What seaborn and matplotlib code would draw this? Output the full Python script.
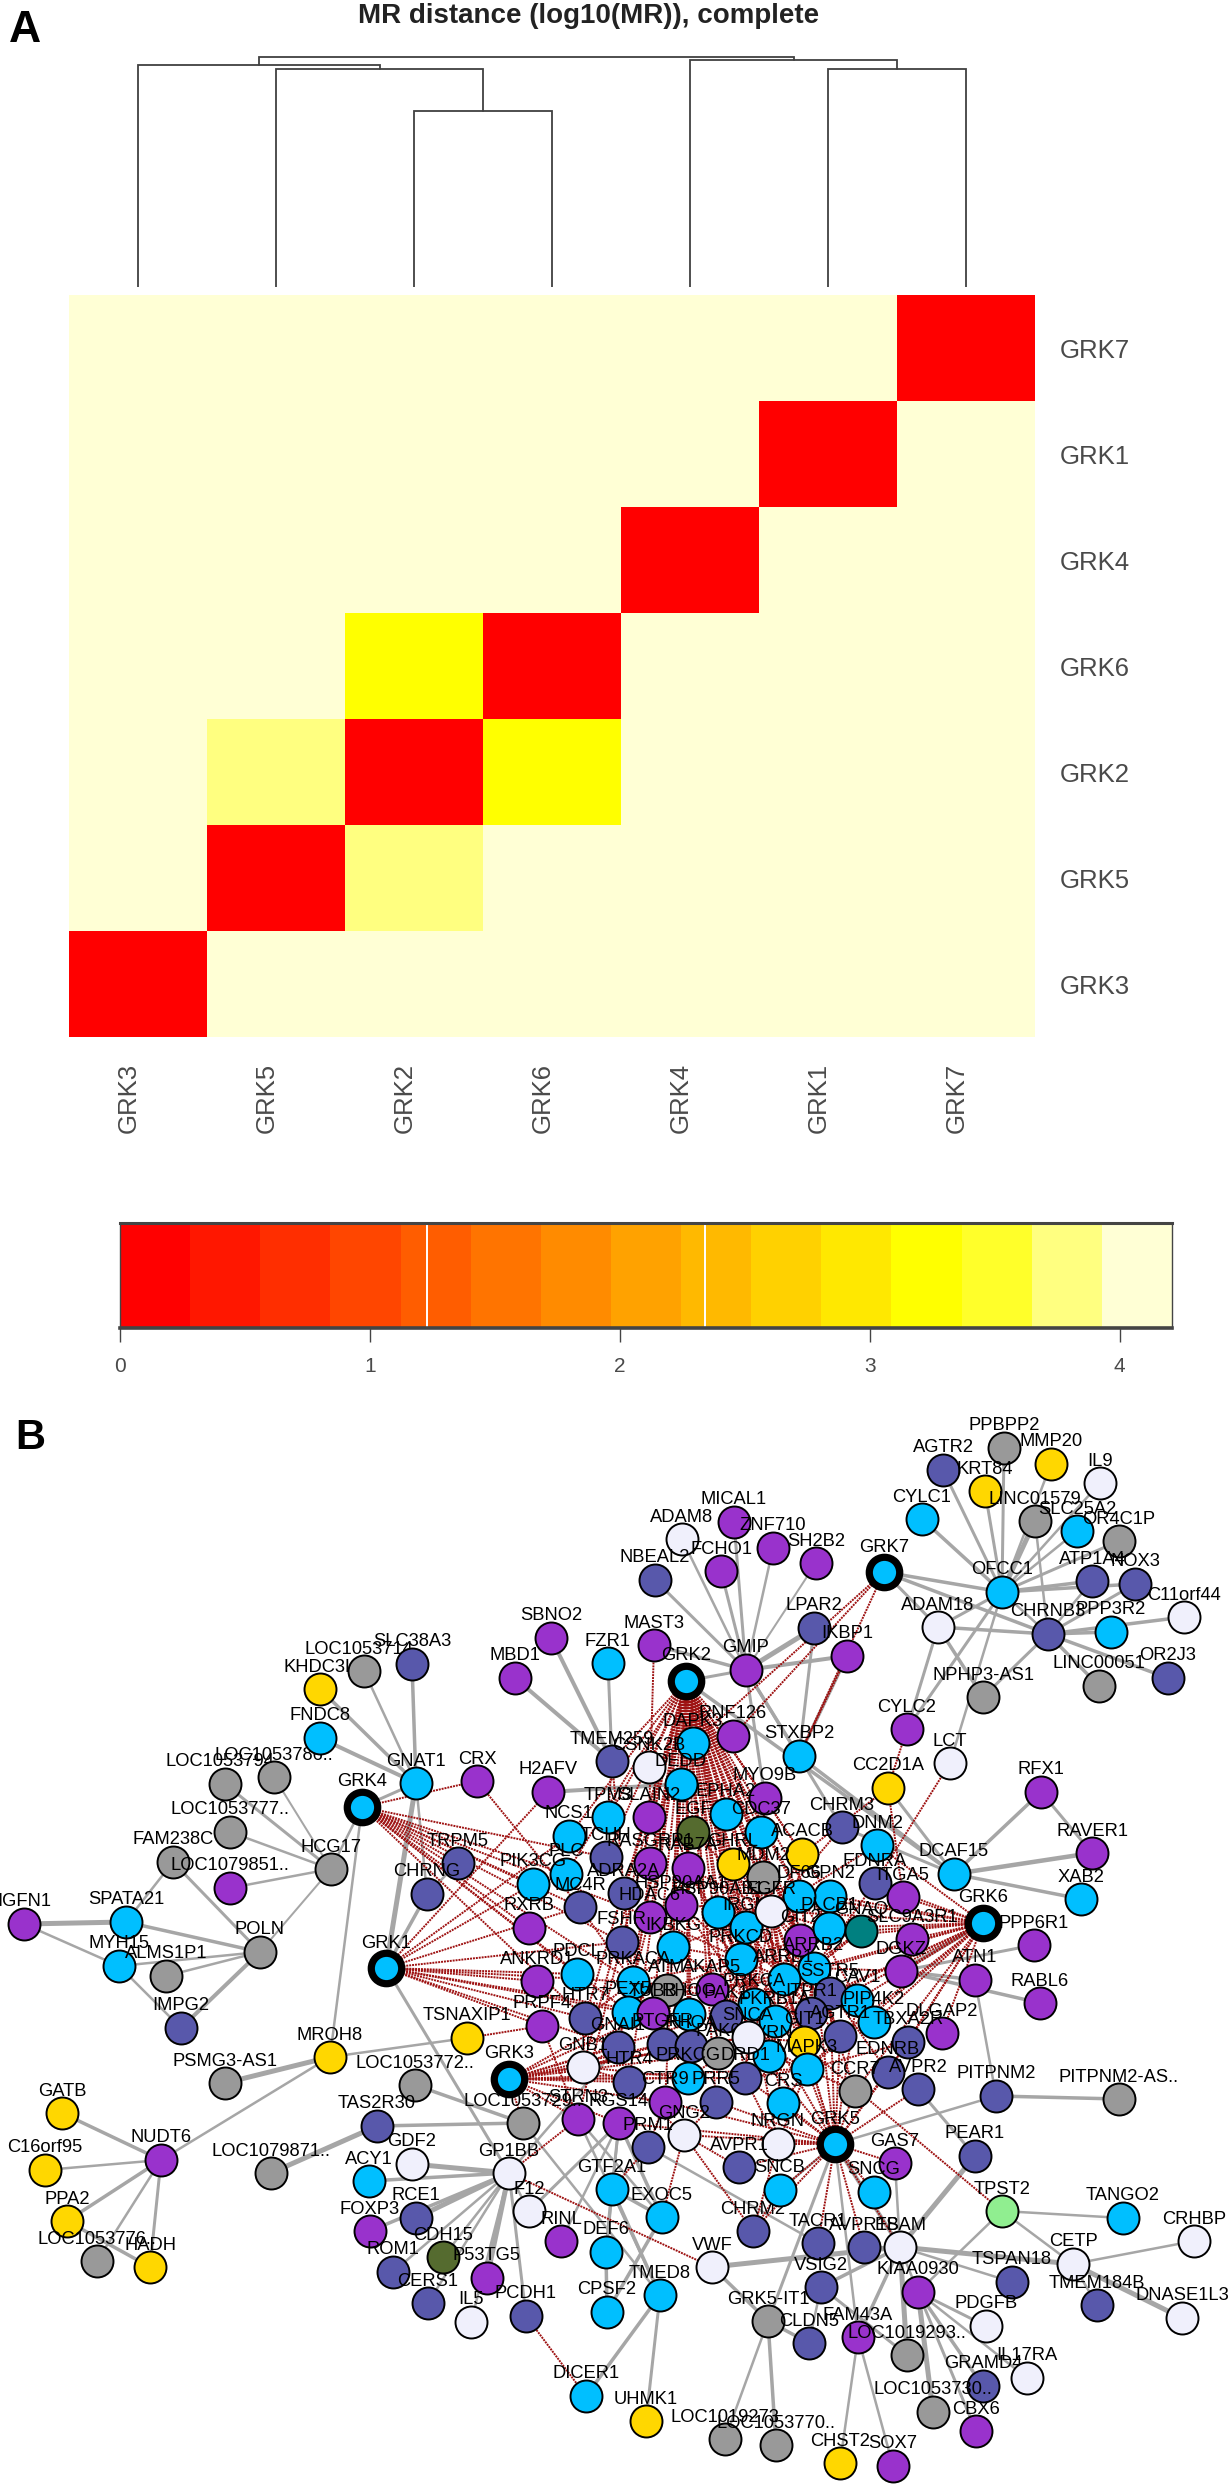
import numpy as np
import pandas as pd
import matplotlib
matplotlib.use("Agg")
import matplotlib.pyplot as plt
from matplotlib.colors import ListedColormap
from matplotlib.transforms import blended_transform_factory
import seaborn as sns

W, H = 1232, 2484
sns.set_style("white")
plt.rcParams['font.family'] = ['Liberation Sans', 'DejaVu Sans']

# ---------- panel A data ----------
GENES = ["GRK3", "GRK5", "GRK2", "GRK6", "GRK4", "GRK1", "GRK7"]
DIAG = 0.0
FAR = 4.1
D_25 = 3.75   # GRK2-GRK5
D_26 = 3.2    # GRK2-GRK6
HEAT_COLORS = ["#FF0000", "#FF1700", "#FF2E00", "#FF4600", "#FF5D00", "#FF7400", "#FF8B00", "#FFA200",
               "#FFB900", "#FFD100", "#FFE800", "#FFFF00", "#FFFF2A", "#FFFF80", "#FFFFD5"]
CBAR_MAX = 4.21
CBAR_MARKS = [1.23, 2.34]
CBAR_TICKS = [0, 1, 2, 3, 4]
# merges: left leaf/cluster, right leaf/cluster, height
MERGES = [("GRK2", "GRK6", 3.20), ("GRK5", 0, 3.96), ("GRK3", 1, 4.04),
          ("GRK1", "GRK7", 3.96), ("GRK4", 3, 4.13), (2, 4, 4.18)]

# ---------- panel B data ----------
WEST = [("LOC1053794..", 225, 1784, "g"), ("LOC1053786..", 274, 1777, "g"), ("KHDC3L", 320, 1689, "y"),
        ("LOC1053714..", 364, 1671, "g"), ("SLC38A3", 412, 1664, "d"), ("FNDC8", 320, 1738, "b"),
        ("GNAT1", 416, 1783, "b"), ("CRX", 477, 1781, "p"), ("LOC1053777..", 230, 1832, "g"),
        ("FAM238C", 173, 1862, "g"), ("LOC1079851..", 230, 1888, "p"), ("HCG17", 331, 1869, "g"),
        ("IGFN1", 24, 1924, "p"), ("SPATA21", 126, 1922, "b"), ("MYH15", 119, 1966, "b"),
        ("ALMS1P1", 166, 1976, "g"), ("POLN", 260, 1952, "g"), ("IMPG2", 181, 2028, "d"),
        ("TRPM5", 458, 1863, "d"), ("CHRNG", 427, 1894, "d"), ("TSNAXIP1", 467, 2038, "y"),
        ("MROH8", 330, 2057, "y"), ("PSMG3-AS1", 225, 2083, "g"), ("LOC1053772..", 415, 2085, "g"),
        ("TAS2R30", 377, 2126, "d"), ("GATB", 62, 2113, "y"), ("NUDT6", 161, 2160, "p"),
        ("C16orf95", 45, 2170, "y"), ("PPA2", 67, 2221, "y"), ("LOC1053776..", 97, 2261, "g"),
        ("HADH", 150, 2267, "y"), ("LOC1079871..", 271, 2173, "g")]
NORTH = [("MBD1", 515, 1678, "p"), ("SBNO2", 551, 1638, "p"), ("FZR1", 608, 1663, "b"),
         ("MICAL1", 734, 1522, "p"), ("ADAM8", 682, 1539, "w"), ("ZNF710", 773, 1548, "p"),
         ("SH2B2", 816, 1563, "p"), ("FCHO1", 721, 1571, "p"), ("NBEAL2", 655, 1580, "d"),
         ("LPAR2", 814, 1628, "d"), ("IKBP1", 847, 1656, "p"), ("MAST3", 654, 1645, "p"),
         ("GMIP", 746, 1670, "p"), ("STXBP2", 799, 1756, "b")]
EAST = [("AGTR2", 943, 1470, "d"), ("PPBPP2", 1004, 1448, "g"), ("MMP20", 1051, 1464, "y"),
        ("IL9", 1100, 1483, "w"), ("KRT84", 985, 1491, "y"), ("LINC01579", 1035, 1521, "g"),
        ("CYLC1", 922, 1519, "b"), ("SLC25A2", 1077, 1531, "b"), ("OR4C1P", 1119, 1541, "g"),
        ("ATP1A4", 1092, 1581, "d"), ("NOX3", 1135, 1584, "d"), ("OFCC1", 1002, 1592, "b"),
        ("C11orf44", 1184, 1617, "w"), ("ADAM18", 938, 1627, "w"), ("PPP3R2", 1111, 1632, "b"),
        ("CHRNB3", 1048, 1634, "d"), ("OR2J3", 1168, 1678, "d"), ("LINC00051", 1099, 1686, "g"),
        ("NPHP3-AS1", 983, 1697, "g"), ("CYLC2", 907, 1729, "p"), ("LCT", 950, 1763, "w"),
        ("CC2D1A", 888, 1788, "y"), ("RFX1", 1041, 1792, "p"), ("RAVER1", 1092, 1853, "p"),
        ("XAB2", 1081, 1899, "b"), ("DCAF15", 954, 1874, "b"), ("PPP6R1", 1034, 1945, "p"),
        ("ATN1", 975, 1980, "p"), ("RABL6", 1040, 2003, "p"), ("PITPNM2", 996, 2096, "d"),
        ("PITPNM2-AS..", 1119, 2099, "g"), ("PEAR1", 975, 2156, "d"), ("TPST2", 1002, 2211, "l"),
        ("TANGO2", 1123, 2218, "b"), ("CRHBP", 1194, 2241, "w"), ("CETP", 1073, 2264, "w"),
        ("TSPAN18", 1012, 2282, "d"), ("TMEM184B", 1097, 2305, "d"), ("DNASE1L3", 1182, 2318, "w")]
SOUTH = [("ACY1", 369, 2181, "b"), ("GDF2", 412, 2164, "w"), ("GP1BB", 509, 2173, "w"),
         ("RCE1", 416, 2218, "d"), ("FOXP3", 370, 2231, "p"), ("ROM1", 393, 2272, "d"),
         ("CDH15", 443, 2257, "o"), ("CERS1", 428, 2303, "d"), ("P53TG5", 487, 2278, "p"),
         ("IL5", 471, 2322, "w"), ("PCDH1", 526, 2316, "d"), ("F12", 529, 2211, "w"),
         ("RINL", 561, 2241, "p"), ("DICER1", 586, 2396, "b"), ("GTF2A1", 612, 2189, "b"),
         ("DEF6", 606, 2252, "b"), ("CPSF2", 607, 2312, "b"), ("EXOC5", 662, 2217, "b"),
         ("TMED8", 660, 2295, "b"), ("UHMK1", 646, 2421, "y"), ("VWF", 712, 2267, "w"),
         ("CHRM2", 753, 2231, "d"), ("TACR1", 818, 2243, "d"), ("AVPR1B", 864, 2247, "d"),
         ("ESAM", 900, 2247, "w"), ("VSIG2", 821, 2287, "d"), ("KIAA0930", 918, 2292, "p"),
         ("GRK5-IT1", 768, 2321, "g"), ("CLDN5", 809, 2343, "d"), ("FAM43A", 858, 2337, "p"),
         ("LOC1019293..", 907, 2355, "g"), ("PDGFB", 986, 2326, "w"), ("GRAMD4", 983, 2386, "d"),
         ("IL17RA", 1027, 2378, "w"), ("LOC1053730..", 933, 2412, "g"), ("CBX6", 976, 2431, "p"),
         ("LOC1019273", 725, 2439, "g"), ("LOC1053770..", 776, 2445, "g"), ("CHST2", 840, 2463, "y"),
         ("SOX7", 893, 2466, "p")]
CORE = [("H2AFV", 548, 1792, "p"), ("TMEM259", 612, 1761, "d"), ("RNF126", 733, 1736, "p"),
        ("DAPK3", 693, 1743, "b"), ("CSNK2B", 649, 1767, "w"), ("DEDD", 681, 1784, "b"),
        ("MYO9B", 765, 1798, "p"), ("CHRM3", 842, 1827, "d"), ("DNM2", 877, 1845, "b"),
        ("TPM3", 608, 1817, "b"), ("SLAIN2", 649, 1817, "p"), ("EPHA2", 726, 1814, "b"),
        ("EGF", 693, 1832, "o"), ("CDC37", 761, 1832, "b"), ("NCS1", 569, 1836, "b"),
        ("ACACB", 802, 1854, "y"), ("TCHH", 606, 1857, "d"), ("RASGRP1", 650, 1863, "p"),
        ("RAB7A", 688, 1868, "p"), ("GHRL", 733, 1864, "y"), ("MDM2", 763, 1877, "g"),
        ("PLC", 566, 1874, "b"), ("PIK3CG", 533, 1884, "b"), ("EDNRA", 875, 1883, "d"),
        ("ITGA5", 903, 1897, "p"), ("GPN2", 830, 1896, "b"), ("DF66", 799, 1896, "b"),
        ("ADRA2A", 624, 1893, "d"), ("MC4R", 580, 1907, "d"), ("HSP90AA1", 681, 1905, "p"),
        ("HDAC6", 650, 1917, "p"), ("HSP90AB1", 718, 1912, "b"), ("IRGM", 746, 1927, "b"),
        ("EGFR", 771, 1911, "w"), ("RXRB", 529, 1928, "p"), ("GIT2", 800, 1940, "p"),
        ("PLCB1", 829, 1928, "b"), ("GNAQ", 861, 1931, "t"), ("SLC9A3R1", 912, 1939, "p"),
        ("FSHR", 622, 1942, "d"), ("IKBKG", 673, 1947, "b"), ("PRKCD", 741, 1959, "b"),
        ("ARRB2", 814, 1968, "b"), ("DGKZ", 901, 1971, "p"), ("ANKRD1", 537, 1981, "p"),
        ("PDCL", 577, 1974, "b"), ("ATM", 667, 1990, "g"), ("AKAP5", 712, 1989, "p"),
        ("PRKACA", 633, 1982, "b"), ("ARRB1", 784, 1979, "b"), ("SSTR5", 830, 1993, "d"),
        ("PRKCA", 754, 2004, "b"), ("CAV1", 857, 2000, "b"), ("PEX5", 628, 2012, "b"),
        ("TUBB", 653, 2013, "p"), ("RHOG", 689, 2014, "b"), ("HTR7", 585, 2018, "d"),
        ("PRPF4", 542, 2026, "p"), ("ITPR1", 811, 2013, "d"), ("PKRB1A", 775, 2021, "b"),
        ("PIP4K2", 874, 2022, "b"), ("PAK1", 726, 2016, "d"), ("GNAI1", 618, 2047, "d"),
        ("PTGFR", 663, 2044, "d"), ("RHOA", 691, 2046, "d"), ("DLGAP2", 942, 2033, "p"),
        ("TBXA2R", 908, 2042, "d"), ("GIT1", 804, 2042, "y"), ("AGTR1", 840, 2036, "d"),
        ("AVRN", 769, 2056, "b"), ("PAK6", 718, 2053, "g"), ("SNCA", 748, 2037, "w"),
        ("GNB1", 583, 2067, "w"), ("EDNRB", 888, 2072, "d"), ("HTR4", 629, 2082, "d"),
        ("DRD1", 745, 2078, "d"), ("PRKCG", 688, 2078, "b"), ("MAPK3", 807, 2069, "b"),
        ("AVPR2", 918, 2089, "d"), ("CCR7", 855, 2091, "g"), ("CTR9", 665, 2102, "p"),
        ("PRR5", 716, 2102, "d"), ("CRS", 783, 2103, "b"), ("STRN3", 578, 2119, "p"),
        ("LOC1053729..", 523, 2123, "g"), ("RGS14", 619, 2123, "p"), ("GNG2", 684, 2135, "w"),
        ("PRM1", 648, 2147, "d"), ("NRGN", 778, 2144, "w"), ("AVPR1", 739, 2167, "d"),
        ("GAS7", 895, 2163, "p"), ("SNCB", 780, 2190, "b"), ("SNCG", 874, 2192, "b")]
SEEDS = [("GRK7", 884, 1572), ("GRK2", 686, 1681), ("GRK4", 362, 1807), ("GRK1", 386, 1968),
         ("GRK6", 983, 1923), ("GRK3", 509, 2079), ("GRK5", 835, 2144)]

NODE_COLORS = {"b": "#00BFFF", "p": "#9932CC", "d": "#5858AB", "g": "#999999", "y": "#FFD700",
               "w": "#F0F0FC", "o": "#556B2F", "t": "#008080", "l": "#90EE90"}

# grey edges: hub -> [(neighbour, width in px)]
GREY = {
 "GNAT1": [("KHDC3L", 3.5), ("LOC1053714..", 2.5), ("SLC38A3", 3.5), ("FNDC8", 4), ("GRK1", 5), ("CHRNG", 2.5)],
 "CHRNG": [("GRK1", 3.5), ("TRPM5", 2.5)],
 "TMEM259": [("MBD1", 4), ("SBNO2", 4), ("FZR1", 3)],
 "H2AFV": [("DEDD", 4)],
 "GMIP": [("NBEAL2", 3), ("ADAM8", 2.5), ("FCHO1", 3), ("MICAL1", 3), ("ZNF710", 2.5), ("SH2B2", 2),
          ("LPAR2", 5), ("IKBP1", 4), ("MAST3", 3.5), ("STXBP2", 3.5), ("MYO9B", 3), ("CHRM3", 3)],
 "LPAR2": [("STXBP2", 3)], "IKBP1": [("STXBP2", 3.5)],
 "GRK2": [("DCAF15", 3.5), ("GMIP", 3)],
 "DCAF15": [("RFX1", 3.5), ("RAVER1", 4.5), ("XAB2", 3.5), ("CC2D1A", 3), ("STXBP2", 3.5), ("CHRM3", 3)],
 "RFX1": [("RAVER1", 3)],
 "OFCC1": [("CYLC1", 3.5), ("AGTR2", 3), ("KRT84", 3), ("PPBPP2", 3), ("IL9", 2.5), ("LINC01579", 5),
           ("SLC25A2", 2.5), ("OR4C1P", 3), ("ATP1A4", 3.5), ("NOX3", 3.5), ("GRK7", 3.5), ("ADAM18", 3),
           ("CYLC2", 3), ("LCT", 2.5), ("MMP20", 2.5), ("CHRNB3", 2.5)],
 "CHRNB3": [("GRK7", 3.5), ("ADAM18", 3.5), ("PPP3R2", 3.5), ("C11orf44", 3.5), ("OR2J3", 3.5),
            ("LINC00051", 3.5), ("NPHP3-AS1", 3), ("LINC01579", 2.5), ("ATP1A4", 2.5), ("NOX3", 3)],
 "ADAM18": [("CYLC2", 3), ("NPHP3-AS1", 3.5), ("GRK7", 3)],
 "HCG17": [("GRK4", 2.5), ("LOC1053777..", 2.5), ("LOC1053786..", 2), ("LOC1079851..", 2.5), ("POLN", 2),
           ("LOC1053794..", 3)],
 "GRK4": [("MROH8", 2.5), ("GNAT1", 3)],
 "POLN": [("FAM238C", 3), ("SPATA21", 3.5), ("MYH15", 2.5), ("ALMS1P1", 2.5), ("IMPG2", 4)],
 "FAM238C": [("SPATA21", 2.5)], "IGFN1": [("SPATA21", 5), ("MYH15", 2.5)], "MYH15": [("IMPG2", 2.5)],
 "MROH8": [("PSMG3-AS1", 5), ("NUDT6", 2.5), ("TSNAXIP1", 2.5)],
 "NUDT6": [("GATB", 3.5), ("C16orf95", 2.5), ("PPA2", 3.5), ("LOC1053776..", 2.5), ("HADH", 3)],
 "PPA2": [("HADH", 3.5)],
 "LOC1053729..": [("LOC1053772..", 3.5), ("TAS2R30", 3.5), ("TMED8", 2.5)],
 "TAS2R30": [("LOC1079871..", 5)],
 "GRK1": [("GP1BB", 3)],
 "GP1BB": [("GDF2", 5), ("ACY1", 3.5), ("RCE1", 5), ("FOXP3", 3.5), ("ROM1", 2.5), ("CDH15", 2.5),
           ("CERS1", 2.5), ("P53TG5", 5), ("PCDH1", 3), ("F12", 2.5), ("IL5", 2.5), ("GNAI1", 2.5)],
 "RGS14": [("F12", 3), ("RINL", 2.5), ("GTF2A1", 3), ("EXOC5", 3.5), ("DEF6", 2.5)],
 "STRN3": [("TMED8", 2.5), ("EXOC5", 2.5)],
 "GTF2A1": [("DEF6", 3.5), ("EXOC5", 3.5), ("TMED8", 3.5)],
 "DEF6": [("CPSF2", 3.5)], "EXOC5": [("CPSF2", 3.5)],
 "TMED8": [("DICER1", 3.5), ("UHMK1", 3)],
 "PRM1": [("TACR1", 2.5)],
 "VWF": [("ESAM", 5), ("GRK5-IT1", 3.5)],
 "ESAM": [("PEAR1", 5), ("TSPAN18", 2.5), ("VSIG2", 3.5), ("CETP", 5), ("FAM43A", 3.5), ("LOC1019293..", 5),
          ("KIAA0930", 2.5), ("GRK5", 4), ("GAS7", 2.5), ("AVPR1B", 3)],
 "TPST2": [("KIAA0930", 2.5), ("CETP", 2.5), ("TANGO2", 2.5)],
 "CETP": [("TMEM184B", 2.5), ("DNASE1L3", 5), ("CRHBP", 2.5)],
 "KIAA0930": [("PDGFB", 3), ("GRAMD4", 3.5), ("IL17RA", 2.5), ("LOC1053730..", 5), ("CBX6", 3)],
 "FAM43A": [("CHST2", 2.5), ("SOX7", 2.5)],
 "GRK5-IT1": [("LOC1019273", 2.5), ("LOC1053770..", 3.5), ("CLDN5", 3.5), ("GRK5", 3)],
 "VSIG2": [("CLDN5", 2.5), ("LOC1019293..", 3)],
 "GRK5": [("FAM43A", 2.5), ("PITPNM2", 2.5), ("SNCB", 2.5)],
 "PITPNM2": [("ATN1", 2.5), ("PITPNM2-AS..", 3.5)],
 "DGKZ": [("ATN1", 3.5), ("RABL6", 3.5), ("PPP6R1", 3), ("GRK6", 4)],
 "AVPR2": [("PEAR1", 3)],
}

# red interactions: hub -> neighbours
RED = {
 "GRK2": ["TMEM259", "CSNK2B", "DAPK3", "DEDD", "RNF126", "MYO9B", "EPHA2", "SLAIN2", "EGF", "CDC37", "RASGRP1",
          "RAB7A", "HSP90AA1", "HSP90AB1", "GHRL", "MDM2", "EGFR", "IKBKG", "PRKCD", "PRKCA", "ARRB1", "ARRB2",
          "TPM3", "NCS1", "ADRA2A", "HDAC6", "FSHR", "PRKACA", "ATM", "AKAP5", "SNCA", "MAPK3", "DRD1", "GNB1",
          "AGTR1", "CAV1", "IRGM", "TCHH", "PLC", "RHOA", "PRKCG", "GIT1", "PKRB1A", "GIT2", "PAK6", "RHOG", "PAK1",
          "TUBB", "ITPR1", "SSTR5", "AVRN", "HTR4", "PTGFR", "CTR9", "PRR5", "GNAI1", "PEX5", "DF66", "PLCB1", "GPN2",
          "ACACB", "CRS", "NRGN", "HTR7", "STRN3"],
 "GRK4": ["TRPM5", "PIK3CG", "PLC", "MC4R", "RXRB", "TCHH", "FSHR", "HDAC6", "PRKACA", "PDCL", "HTR7", "PEX5", "CRX"],
 "GRK1": ["H2AFV", "ANKRD1", "PRPF4", "PDCL", "PEX5", "HTR7", "PRKACA", "FSHR", "PIK3CG", "NCS1", "MC4R", "GNAI1", "TUBB"],
 "GRK3": ["GNB1", "GNAI1", "HTR4", "PRKCG", "PTGFR", "RHOA", "STRN3", "RGS14", "CTR9", "PRKCA", "DRD1", "PEX5", "TUBB",
          "PAK6", "LOC1053729..", "SNCA", "MAPK3"],
 "GRK5": ["NRGN", "AVPR1", "GNG2", "SNCB", "SNCG", "GAS7", "CCR7", "EDNRB", "AVPR2", "MAPK3", "AGTR1", "CRS", "DRD1",
          "PRR5", "TBXA2R", "CHRM2", "TACR1", "AVPR1B", "ESAM", "PRKCA", "GIT1", "ARRB1", "ARRB2", "SNCA", "SSTR5",
          "CAV1", "CTR9", "RGS14"],
 "GRK6": ["ITGA5", "SLC9A3R1", "EDNRA", "GNAQ", "DGKZ", "CAV1", "SSTR5", "PIP4K2", "TBXA2R", "DLGAP2", "ARRB2", "ARRB1",
          "PKRB1A", "GPN2", "DNM2", "PLCB1", "GIT2", "EGFR", "AGTR1", "ITPR1", "EDNRB", "CCR7", "DF66", "MAPK3"],
 "GRK7": ["RNF126", "STXBP2", "DAPK3"],
 "PRKCA": ["PRKCD", "EGFR", "ARRB1", "ARRB2", "IKBKG", "HSP90AB1", "AKAP5", "PKRB1A", "ITPR1", "MDM2", "HSP90AA1", "GIT2",
           "CDC37", "GNAQ", "SNCA", "DRD1", "CAV1", "TPST2", "PRKACA", "RAB7A", "GHRL", "IRGM", "PAK1"],
 "ARRB1": ["PRKCD", "EGFR", "ARRB2", "IRGM", "MDM2", "GIT2", "GIT1", "SSTR5", "AGTR1", "DF66", "GPN2", "CAV1", "PLCB1",
           "HSP90AB1", "AKAP5", "ITPR1", "MAPK3", "GHRL", "ACACB", "PAK1", "PKRB1A", "SNCA", "CDC37"],
 "ARRB2": ["PRKCD", "EGFR", "IRGM", "MDM2", "GIT2", "GIT1", "AGTR1", "DF66", "CAV1", "GNAQ", "ITPR1", "MAPK3", "CCR7",
           "EDNRB", "DGKZ", "ITGA5", "EDNRA", "PKRB1A", "PAK1", "AKAP5"],
 "EGFR": ["PRKCD", "HSP90AB1", "HSP90AA1", "IKBKG", "CDC37", "MDM2", "PKRB1A", "GIT2", "AKAP5", "RAB7A", "EGF", "GPN2",
          "PLCB1", "CHRM3", "DNM2", "ACACB", "IRGM", "GHRL", "ITPR1"],
 "PRKCD": ["HSP90AB1", "HSP90AA1", "IKBKG", "AKAP5", "MDM2", "RAB7A", "HDAC6", "IRGM", "PAK1", "PRKACA", "SNCA", "GIT2",
           "PKRB1A", "ATM"],
 "PRKACA": ["FSHR", "ADRA2A", "HDAC6", "IKBKG", "AKAP5", "ATM", "RHOG", "TUBB", "HTR7", "PEX5", "MC4R", "GNAI1", "PTGFR"],
 "SNCA": ["PAK6", "DRD1", "PRKCG", "AVRN", "PKRB1A", "RHOA", "PAK1", "MAPK3", "GIT1"],
 "MAPK3": ["ITPR1", "GIT1", "AGTR1", "CRS", "DRD1", "NRGN", "CCR7", "AVRN", "TBXA2R"],
 "GNB1": ["RHOA", "PTGFR", "GNAI1", "HTR4", "PRKCG", "HTR7"],
 "GNG2": ["EXOC5", "CHRM2", "PRR5", "HTR4", "AVPR1"],
 "CHRM2": ["SNCB"], "PRM1": ["GTF2A1", "CTR9"], "TSNAXIP1": ["PRPF4"], "GP1BB": ["VWF", "STRN3"],
 "PCDH1": ["DICER1"], "CYLC2": ["CC2D1A"], "CC2D1A": ["ITGA5", "ACACB"], "LCT": ["EDNRA"],
 "IKBP1": ["STXBP2"], "MAST3": ["SLAIN2"], "TMEM259": ["ADRA2A", "TPM3"], "CRX": ["MC4R"],
 "PRPF4": ["STRN3"], "NRGN": ["CHRM2", "DRD1"],
}

# ---------- helpers ----------
def box(x0, y0, x1, y1):
    return [x0 / W, 1 - y1 / H, (x1 - x0) / W, (y1 - y0) / H]

fig = plt.figure(figsize=(W / 100, H / 100), dpi=100, facecolor="white")
TXT = "#4A4A4A"

# ---------- heatmap ----------
n = len(GENES)
mat = np.full((n, n), FAR)
np.fill_diagonal(mat, DIAG)
mat[1, 2] = mat[2, 1] = D_25
mat[2, 3] = mat[3, 2] = D_26
frame = pd.DataFrame(mat[::-1], index=GENES[::-1], columns=GENES)
cmap = ListedColormap(HEAT_COLORS)
ax_h = fig.add_axes(box(69, 295, 1035, 1037))
sns.heatmap(frame, cmap=cmap, vmin=0, vmax=CBAR_MAX, cbar=False, ax=ax_h, xticklabels=False, yticklabels=True)
ax_h.set_xlabel(""); ax_h.set_ylabel("")
ax_h.yaxis.tick_right()
ax_h.tick_params(axis="y", length=0, pad=18, labelsize=18.5, labelcolor=TXT, labelrotation=0)
tr = blended_transform_factory(ax_h.transData, fig.transFigure)
for i, g in enumerate(GENES):
    ax_h.text(i + 0.43, 1 - 1133 / H, g, rotation=90, ha="center", va="bottom", transform=tr,
              fontsize=18.5, color=TXT)

# ---------- dendrogram ----------
ax_d = fig.add_axes(box(69, 45, 1035, 287))
pos = {g: (i + 0.5, 0.0) for i, g in enumerate(GENES)}
for k, (a, b, h) in enumerate(MERGES):
    xa, ha_ = pos[a]; xb, hb_ = pos[b]
    ax_d.plot([xa, xa, xb, xb], [ha_, h, h, hb_], color="#404040", lw=1.3, solid_joinstyle="miter")
    pos[k] = ((xa + xb) / 2, h)
ax_d.set_xlim(0, n); ax_d.set_ylim(0, 242 / 55)
ax_d.axis("off")

# ---------- colour key ----------
ax_c = fig.add_axes(box(120, 1223, 1172, 1328))
edges = np.linspace(0, CBAR_MAX, len(HEAT_COLORS) + 1)
ax_c.pcolormesh(edges, [0, 1], [np.arange(len(HEAT_COLORS))], cmap=cmap, vmin=-0.5, vmax=len(HEAT_COLORS) - 0.5)
for m in CBAR_MARKS:
    ax_c.axvline(m, color="white", lw=1.4)
ax_c.set_xlim(0, CBAR_MAX); ax_c.set_ylim(0, 1)
ax_c.set_yticks([]); ax_c.set_xticks(CBAR_TICKS)
ax_c.tick_params(axis="x", length=10, width=1, color="#444444", labelsize=15, labelcolor=TXT, pad=11, bottom=True)
for s, lw in [("top", 2.2), ("bottom", 2.6), ("left", 1), ("right", 1)]:
    ax_c.spines[s].set_visible(True); ax_c.spines[s].set_linewidth(lw); ax_c.spines[s].set_color("#444444")

# ---------- network ----------
ax_n = fig.add_axes([0, 0, 1, 1], facecolor="none")
rows = WEST + NORTH + EAST + SOUTH + CORE
coords = {r[0]: (r[1], r[2]) for r in rows}
coords.update({r[0]: (r[1], r[2]) for r in SEEDS})

for hub, nbrs in GREY.items():
    for other, w in nbrs:
        ax_n.plot(*zip(coords[hub], coords[other]), color="#A6A6A6", lw=w * 0.72,
                  solid_capstyle="butt", zorder=1)
for hub, nbrs in RED.items():
    for other in nbrs:
        ax_n.plot(*zip(coords[hub], coords[other]), color="#9E1212", lw=1.4,
                  linestyle=(0, (1.0, 0.5)), zorder=2)

z = 3.0
for name, x, y, grp in rows:
    sns.scatterplot(x=[x], y=[y], s=530, color=NODE_COLORS[grp], edgecolor="black", linewidth=1.4,
                    legend=False, zorder=z, ax=ax_n)
    ax_n.text(x, y - 22, name, ha="center", va="center", fontsize=13.2, color="black", zorder=z + 0.01)
    z += 0.02
for name, x, y in SEEDS:
    sns.scatterplot(x=[x], y=[y], s=480, color=NODE_COLORS["b"], edgecolor="black", linewidth=5.2,
                    legend=False, zorder=z, ax=ax_n)
    ax_n.text(x, y - 25, name, ha="center", va="center", fontsize=13.2, color="black", zorder=z + 0.01)
    z += 0.02
ax_n.set_xlim(0, W); ax_n.set_ylim(H, 0)
ax_n.set_xlabel(""); ax_n.set_ylabel("")
ax_n.axis("off")

# ---------- text ----------
fig.text(589 / W, 1 - 16 / H, "MR distance (log10(MR)), complete", ha="center", va="center",
         fontsize=20, fontweight="bold", color="#222222")
fig.text(9 / W, 1 - 31 / H, "A", ha="left", va="center", fontsize=32, fontweight="bold", color="black")
fig.text(15 / W, 1 - 1438 / H, "B", ha="left", va="center", fontsize=30, fontweight="bold", color="black")

fig.savefig("out.png", dpi=100)
